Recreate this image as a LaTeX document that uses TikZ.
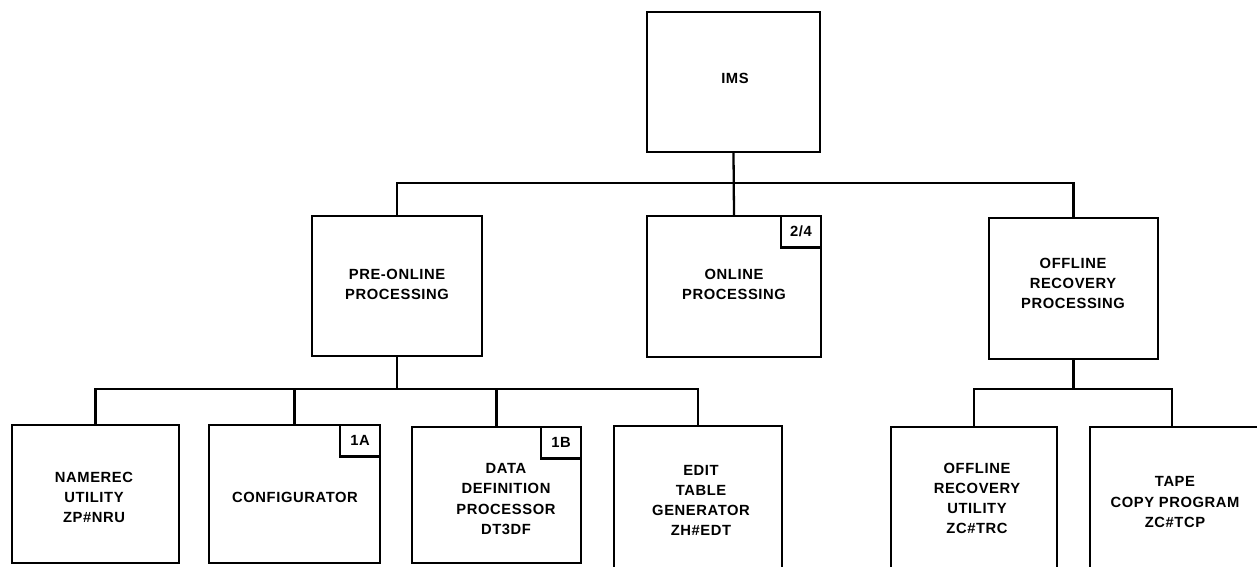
\documentclass[tikz,border=0pt]{standalone}
\usepackage{fontspec}
\newfontfamily\diafont[LetterSpace=4]{Liberation Sans}
\begin{document}
\begin{tikzpicture}[x=0.02cm,y=-0.02cm,
  box/.style={draw,line width=1.3pt,inner sep=0pt},
  tag/.style={draw,line width=1.3pt,inner sep=0pt,minimum width=0.8cm,minimum height=0.63cm,
    font=\diafont\bfseries\fontsize{8.4}{10}\selectfont,anchor=north east},
  txt/.style={align=center,inner sep=0pt,font=\diafont\bfseries\fontsize{8.4}{11.4}\selectfont},
  wire/.style={line width=1.3pt}]
\useasboundingbox (0,0) rectangle (1257,566);
\clip (0,0) rectangle (1257,566);
% level 0
\node[box,minimum width=3.46cm,minimum height=2.80cm] (ims) at (733.5,82) {};
\node[txt] (imsT) at (735,78) {IMS};
% level 1
\node[box,minimum width=3.40cm,minimum height=2.80cm] (pre) at (397,286) {};
\node[txt] (preT) at (397,284) {PRE-ONLINE\\PROCESSING};
\node[box,minimum width=3.48cm,minimum height=2.82cm] (on) at (734,286.5) {};
\node[tag] (onTag) at (on.north east) {2/4};
\node[txt] (onT) at (734,284.5) {ONLINE\\PROCESSING};
\node[box,minimum width=3.38cm,minimum height=2.82cm] (off) at (1073.5,288.5) {};
\node[txt] (offT) at (1073,283) {OFFLINE\\RECOVERY\\PROCESSING};
% level 2 (pre-online)
\node[box,minimum width=3.34cm,minimum height=2.76cm] (n1) at (95.5,494) {};
\node[txt] (n1T) at (94,497) {NAMEREC\\UTILITY\\ZP\#NRU};
\node[box,minimum width=3.42cm,minimum height=2.76cm] (n2) at (294.5,494) {};
\node[tag] (n2Tag) at (n2.north east) {1A};
\node[txt] (n2T) at (295,497) {CONFIGURATOR};
\node[box,minimum width=3.38cm,minimum height=2.72cm] (n3) at (496.5,495) {};
\node[tag] (n3Tag) at (n3.north east) {1B};
\node[txt] (n3T) at (506,499) {DATA\\DEFINITION\\PROCESSOR\\DT3DF};
\node[box,minimum width=3.36cm,minimum height=2.88cm] (n4) at (698,498) {};
\node[txt] (n4T) at (701,500) {EDIT\\TABLE\\GENERATOR\\ZH\#EDT};
% level 2 (offline)
\node[box,minimum width=3.32cm,minimum height=2.86cm] (m1) at (974,498.5) {};
\node[txt] (m1T) at (977,498) {OFFLINE\\RECOVERY\\UTILITY\\ZC\#TRC};
\node[box,minimum width=3.60cm,minimum height=2.86cm] (m2) at (1180,498.5) {};
\node[txt] (m2T) at (1175,502) {TAPE\\COPY PROGRAM\\ZC\#TCP};
% connectors
\coordinate (bus1) at (736,183);
\draw[wire] (ims.south) -- (on.north);
\draw[wire] (pre.north) |- (bus1) -| (off.north);
\coordinate (bus2) at (397,389);
\draw[wire] (pre.south) -- (bus2);
\draw[wire] (n1.north) |- (bus2) -| (n4.north);
\draw[wire] (n2.north) -- (n2.north |- bus2);
\draw[wire] (n3.north) -- (n3.north |- bus2);
\coordinate (bus3) at (1073.5,389);
\draw[wire] (off.south) -- (bus3);
\draw[wire] (m1.north) |- (bus3) -| ([xshift=-0.16cm]m2.north);
\end{tikzpicture}
\end{document}
